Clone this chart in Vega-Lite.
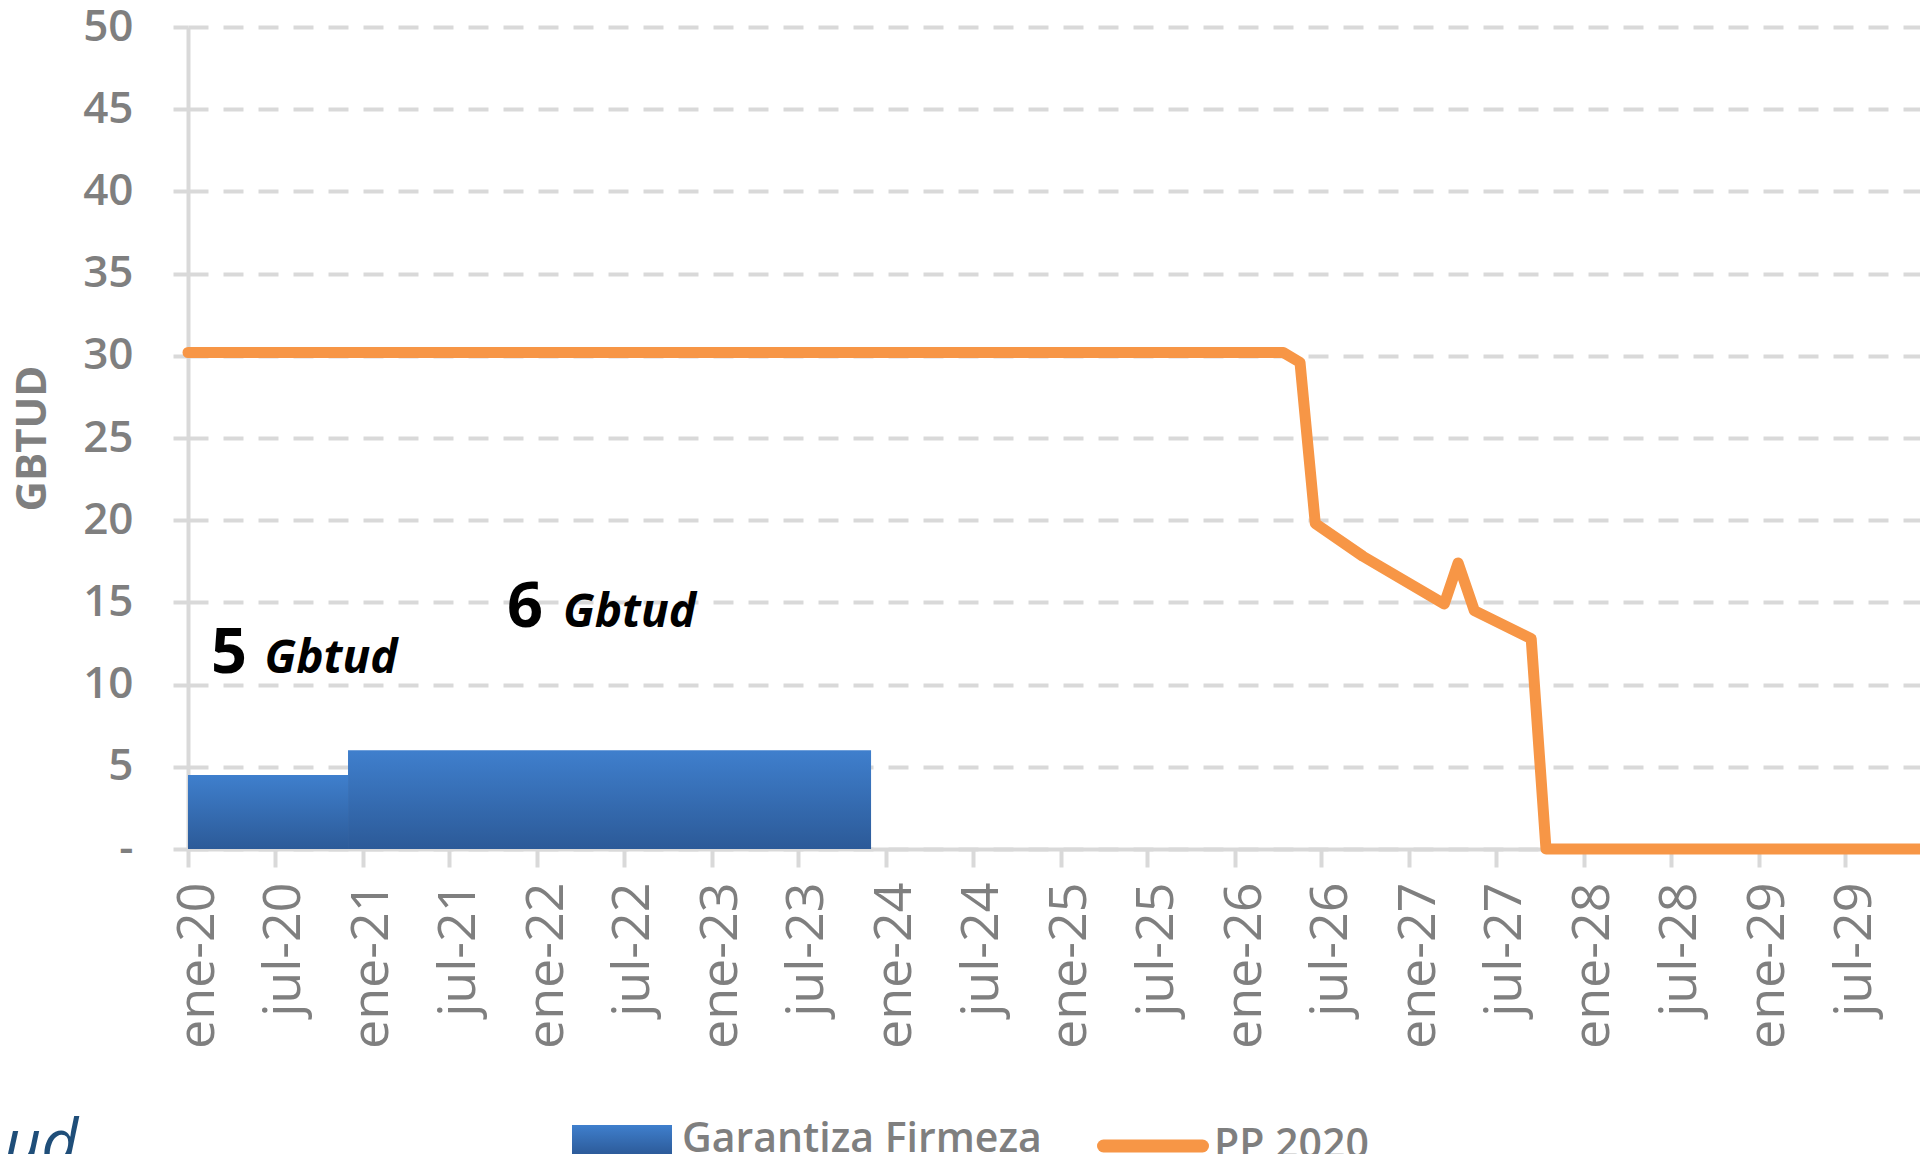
{
  "$schema": "https://vega.github.io/schema/vega-lite/v6.json",
  "width": 1732,
  "height": 822,
  "autosize": "none",
  "padding": {"left": 188, "top": 27, "right": 0, "bottom": 305},
  "background": "white",
  "config": {
    "view": {"stroke": null},
    "font": "Open Sans"
  },
  "layer": [
    {
      "data": {"values": [
        {"start": "2020-01-01", "end": "2020-12-01", "value": 4.5, "serie": "Garantiza Firmeza"},
        {"start": "2020-12-01", "end": "2023-12-01", "value": 6.0, "serie": "Garantiza Firmeza"}
      ]},
      "mark": {"type": "bar", "fill": {"gradient": "linear", "x1": 0, "y1": 0, "x2": 0, "y2": 1, "stops": [{"offset": 0, "color": "#3f7fcd"}, {"offset": 1, "color": "#2c5a98"}]}},
      "encoding": {
        "x": {
          "field": "start", "type": "temporal", "title": null,
          "scale": {"type": "utc", "domain": [{"year": 2020, "month": 1, "date": 1, "utc": true}, {"year": 2029, "month": 12, "date": 5, "utc": true}]},
          "axis": {
            "values": [
              {"year": 2020, "month": 1, "date": 1, "utc": true}, {"year": 2020, "month": 7, "date": 1, "utc": true},
              {"year": 2021, "month": 1, "date": 1, "utc": true}, {"year": 2021, "month": 7, "date": 1, "utc": true},
              {"year": 2022, "month": 1, "date": 1, "utc": true}, {"year": 2022, "month": 7, "date": 1, "utc": true},
              {"year": 2023, "month": 1, "date": 1, "utc": true}, {"year": 2023, "month": 7, "date": 1, "utc": true},
              {"year": 2024, "month": 1, "date": 1, "utc": true}, {"year": 2024, "month": 7, "date": 1, "utc": true},
              {"year": 2025, "month": 1, "date": 1, "utc": true}, {"year": 2025, "month": 7, "date": 1, "utc": true},
              {"year": 2026, "month": 1, "date": 1, "utc": true}, {"year": 2026, "month": 7, "date": 1, "utc": true},
              {"year": 2027, "month": 1, "date": 1, "utc": true}, {"year": 2027, "month": 7, "date": 1, "utc": true},
              {"year": 2028, "month": 1, "date": 1, "utc": true}, {"year": 2028, "month": 7, "date": 1, "utc": true},
              {"year": 2029, "month": 1, "date": 1, "utc": true}, {"year": 2029, "month": 7, "date": 1, "utc": true}
            ],
            "labelExpr": "(utcFormat(datum.value, '%m') == '01' ? 'ene' : 'jul') + '-' + utcFormat(datum.value, '%y')",
            "labelAngle": -90,
            "labelFontSize": 52,
            "labelColor": "#7f7f7f",
            "labelFont": "Open Sans",
            "labelPadding": 15,
            "labelOffset": 9,
            "labelOverlap": false,
            "labelFlush": false,
            "labelBound": false,
            "tickSize": 18,
            "tickWidth": 4,
            "tickColor": "#d9d9d9",
            "domainColor": "#d9d9d9",
            "domainWidth": 4,
            "grid": false
          }
        },
        "x2": {"field": "end"},
        "y": {
          "field": "value", "type": "quantitative", "title": "GBTUD",
          "scale": {"domain": [0, 50], "nice": false, "zero": true},
          "axis": {
            "values": [0, 5, 10, 15, 20, 25, 30, 35, 40, 45, 50],
            "labelExpr": "datum.value === 0 ? '-\u00a0\u00a0' : datum.label",
            "labelFontSize": 44,
            "labelFontWeight": 600,
            "labelColor": "#7f7f7f",
            "labelFont": "Open Sans",
            "labelPadding": 40,
            "tickSize": 15,
            "tickWidth": 4,
            "tickColor": "#d9d9d9",
            "domainColor": "#d9d9d9",
            "domainWidth": 4,
            "grid": true,
            "gridColor": "#d9d9d9",
            "gridWidth": 4,
            "gridDash": [20, 15],
            "titleFont": "Open Sans",
            "titleFontSize": 42,
            "titleFontWeight": "bold",
            "titleColor": "#7f7f7f",
            "titleX": -156,
            "titleY": 411,
            "titleAngle": -90,
            "titleAlign": "center",
            "titleBaseline": "middle"
          }
        },
        "y2": {"datum": 0},
        "opacity": {
          "field": "serie", "type": "nominal",
          "scale": {"range": [1]},
          "legend": {
            "orient": "none",
            "legendX": 384,
            "legendY": 1063,
            "title": null,
            "padding": 0,
            "symbolType": "M-1,-0.3H1V0.3H-1Z",
            "symbolSize": 10000,
            "symbolStrokeWidth": 0,
            "symbolFillColor": "#3a74c2",
            "symbolOpacity": 1,
            "labelFont": "Open Sans",
            "labelFontSize": 41,
            "labelFontWeight": 600,
            "labelColor": "#7f7f7f",
            "labelOffset": 10,
            "labelLimit": 0,
            "encode": {"symbols": {"update": {"fill": {"value": {"gradient": "linear", "x1": 0, "y1": 0, "x2": 0, "y2": 1, "stops": [{"offset": 0, "color": "#3f7fcd"}, {"offset": 1, "color": "#2c5a98"}]}}, "opacity": {"value": 1}}}}
          }
        }
      }
    },
    {
      "data": {"values": [
        {"date": "2020-01-01", "value": 30.2, "serie": "PP 2020"},
        {"date": "2026-04-12", "value": 30.2, "serie": "PP 2020"},
        {"date": "2026-05-17", "value": 29.6, "serie": "PP 2020"},
        {"date": "2026-06-18", "value": 19.8, "serie": "PP 2020"},
        {"date": "2026-09-26", "value": 17.8, "serie": "PP 2020"},
        {"date": "2027-03-15", "value": 14.9, "serie": "PP 2020"},
        {"date": "2027-04-13", "value": 17.4, "serie": "PP 2020"},
        {"date": "2027-05-17", "value": 14.5, "serie": "PP 2020"},
        {"date": "2027-09-13", "value": 12.8, "serie": "PP 2020"},
        {"date": "2027-10-14", "value": 0, "serie": "PP 2020"},
        {"date": "2029-12-05", "value": 0, "serie": "PP 2020"}
      ]},
      "mark": {"type": "line", "strokeWidth": 11, "strokeJoin": "round", "strokeCap": "round"},
      "encoding": {
        "x": {"field": "date", "type": "temporal", "title": null},
        "y": {"field": "value", "type": "quantitative", "title": "GBTUD"},
        "stroke": {
          "field": "serie", "type": "nominal",
          "scale": {"range": ["#f79646"]},
          "legend": {
            "orient": "none",
            "legendX": 909,
            "legendY": 1063,
            "title": null,
            "padding": 0,
            "symbolType": "stroke",
            "symbolSize": 9800,
            "symbolStrokeWidth": 13,
            "labelFont": "Open Sans",
            "labelFontSize": 41,
            "labelFontWeight": 600,
            "labelColor": "#7f7f7f",
            "labelOffset": 5,
            "labelLimit": 0,
            "encode": {"symbols": {"update": {"strokeCap": {"value": "round"}}}}
          }
        }
      }
    },
    {
      "data": {"values": [
        {"date": "2020-02-18", "value": 10.7, "label": "5"},
        {"date": "2021-10-30", "value": 13.5, "label": "6"}
      ]},
      "mark": {"type": "text", "align": "left", "baseline": "alphabetic", "font": "Open Sans", "fontSize": 63, "fontWeight": "bold", "color": "#000000"},
      "encoding": {
        "x": {"field": "date", "type": "temporal", "title": null},
        "y": {"field": "value", "type": "quantitative", "title": "GBTUD"},
        "text": {"field": "label", "type": "nominal"}
      }
    },
    {
      "data": {"values": [
        {"date": "2020-06-09", "value": 10.7, "label": "Gbtud"},
        {"date": "2022-02-24", "value": 13.5, "label": "Gbtud"}
      ]},
      "mark": {"type": "text", "align": "left", "baseline": "alphabetic", "font": "Open Sans", "fontSize": 46, "fontWeight": "bold", "fontStyle": "italic", "color": "#000000"},
      "encoding": {
        "x": {"field": "date", "type": "temporal", "title": null},
        "y": {"field": "value", "type": "quantitative", "title": "GBTUD"},
        "text": {"field": "label", "type": "nominal"}
      }
    },
    {
      "data": {"values": [
        {"date": "2019-05-16", "value": -19.2, "label": "ud"}
      ]},
      "mark": {"type": "text", "align": "right", "baseline": "alphabetic", "font": "Open Sans", "fontSize": 64, "fontStyle": "italic", "color": "#1f4e79"},
      "encoding": {
        "x": {"field": "date", "type": "temporal", "title": null},
        "y": {"field": "value", "type": "quantitative", "title": "GBTUD"},
        "text": {"field": "label", "type": "nominal"}
      }
    }
  ]
}
